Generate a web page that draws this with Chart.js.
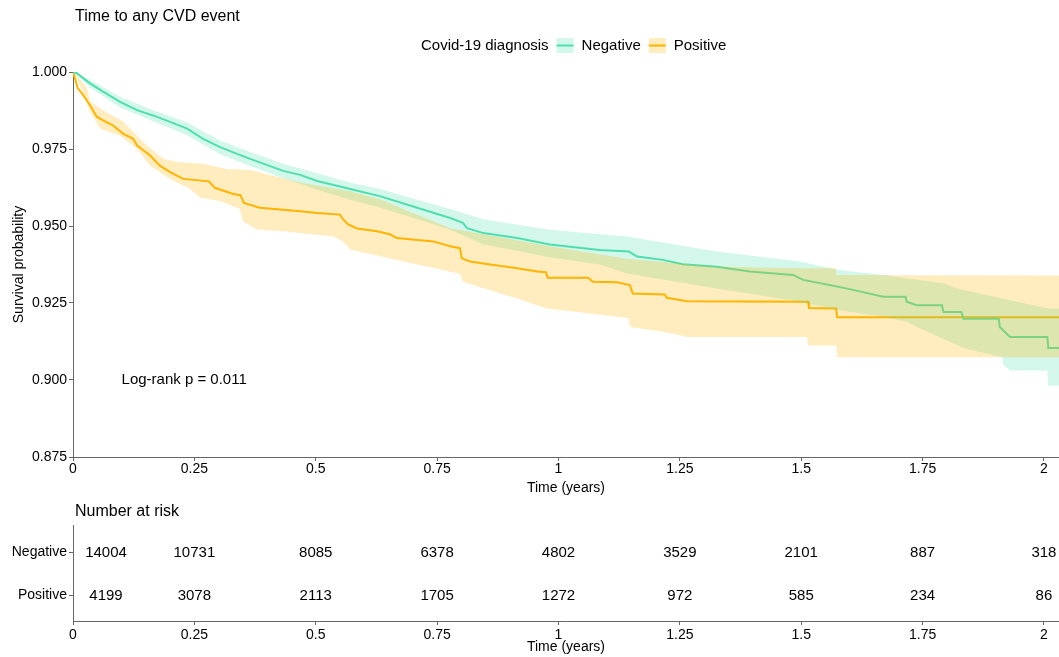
<!DOCTYPE html>
<html>
<head>
<meta charset="utf-8">
<script src="https://cdn.jsdelivr.net/npm/chart.js@4.4.1/dist/chart.umd.min.js"></script>
<style>
  body { margin: 0; background: #fff; }
  canvas { display: block; }
</style>
</head>
<body>
<canvas id="kmChart" width="1059" height="500"></canvas>
<canvas id="riskChart" width="1059" height="157"></canvas>
<script>
// Kaplan-Meier curves: [time in years, survival]
const negativeCurve = [[0,1],[0.008,0.9996],[0.035,0.9963],[0.062,0.9936],[0.097,0.9903],[0.132,0.9876],[0.165,0.9859],[0.2,0.9838],[0.235,0.9816],[0.268,0.9783],[0.303,0.9756],[0.338,0.9734],[0.365,0.9718],[0.433,0.9679],[0.468,0.9666],[0.503,0.9646],[0.571,0.962],[0.632,0.9597],[0.709,0.9559],[0.777,0.9526],[0.803,0.951],[0.812,0.9493],[0.845,0.9477],[0.915,0.9461],[0.982,0.944],[1.085,0.9422],[1.145,0.9417],[1.162,0.9401],[1.215,0.939],[1.256,0.9376],[1.326,0.9368],[1.394,0.9352],[1.483,0.9341],[1.504,0.9325],[1.553,0.931],[1.6,0.9295],[1.669,0.927],[1.715,0.927],[1.717,0.9254],[1.738,0.9243],[1.79,0.9243],[1.793,0.9221],[1.83,0.9221],[1.834,0.9199],[1.907,0.9199],[1.909,0.9172],[1.93,0.914],[2.007,0.914],[2.009,0.9104],[2.031,0.9104]];
const negativeUpper = [[0,1],[0.035,0.9975],[0.097,0.992],[0.165,0.9876],[0.235,0.9836],[0.303,0.9778],[0.365,0.974],[0.433,0.9702],[0.503,0.9671],[0.571,0.9641],[0.632,0.962],[0.709,0.9585],[0.777,0.9555],[0.845,0.9522],[0.982,0.9488],[1.141,0.9466],[1.326,0.9417],[1.497,0.9385],[1.574,0.9358],[1.669,0.9341],[1.717,0.933],[1.793,0.9314],[1.821,0.9297],[1.93,0.9259],[2.009,0.9232],[2.031,0.9232]];
const negativeLower = [[0,1],[0.035,0.995],[0.097,0.9885],[0.165,0.984],[0.235,0.9795],[0.303,0.9733],[0.365,0.9695],[0.433,0.9655],[0.503,0.9618],[0.571,0.9585],[0.632,0.956],[0.709,0.9522],[0.777,0.9488],[0.845,0.944],[0.915,0.942],[0.982,0.9398],[1.085,0.9375],[1.141,0.9346],[1.326,0.9297],[1.497,0.9254],[1.574,0.9227],[1.669,0.9205],[1.717,0.9189],[1.738,0.9172],[1.834,0.9104],[1.914,0.9074],[1.916,0.905],[1.93,0.9031],[2.007,0.9031],[2.009,0.8982],[2.031,0.8982]];

const positiveCurve = [[0,1],[0.004,0.9979],[0.01,0.9947],[0.021,0.9925],[0.035,0.9892],[0.049,0.9855],[0.062,0.9843],[0.082,0.9827],[0.103,0.98],[0.124,0.9783],[0.132,0.9761],[0.159,0.9729],[0.179,0.9696],[0.2,0.9675],[0.227,0.9653],[0.28,0.9645],[0.292,0.9624],[0.33,0.9604],[0.345,0.96],[0.352,0.9575],[0.385,0.9559],[0.468,0.9548],[0.503,0.9542],[0.55,0.9537],[0.556,0.9522],[0.566,0.9506],[0.585,0.9492],[0.626,0.9483],[0.653,0.9473],[0.667,0.9461],[0.742,0.945],[0.777,0.9434],[0.797,0.9428],[0.801,0.9395],[0.818,0.9385],[0.859,0.9375],[0.915,0.9363],[0.956,0.9352],[0.974,0.935],[0.978,0.9332],[1.061,0.9332],[1.071,0.9319],[1.12,0.9317],[1.147,0.9308],[1.153,0.9281],[1.219,0.9278],[1.223,0.9267],[1.265,0.9256],[1.514,0.9254],[1.516,0.9234],[1.572,0.9232],[1.574,0.9204],[2.031,0.9204]];
const positiveUpper = [[0,1],[0.008,0.9989],[0.029,0.9947],[0.035,0.9904],[0.056,0.9881],[0.082,0.9858],[0.103,0.9839],[0.132,0.9793],[0.153,0.976],[0.186,0.9718],[0.214,0.9708],[0.268,0.9702],[0.317,0.9685],[0.365,0.9682],[0.468,0.9641],[0.571,0.9613],[0.632,0.9587],[0.777,0.9493],[0.982,0.9434],[1.141,0.9394],[1.326,0.9368],[1.504,0.9363],[1.571,0.9363],[1.573,0.9341],[2.031,0.9339]];
const positiveLower = [[0,1],[0.014,0.9958],[0.035,0.9872],[0.056,0.9816],[0.097,0.9794],[0.132,0.9751],[0.159,0.9696],[0.2,0.9653],[0.241,0.962],[0.262,0.9592],[0.303,0.9581],[0.344,0.9555],[0.35,0.9515],[0.379,0.9489],[0.433,0.9483],[0.536,0.9466],[0.556,0.945],[0.571,0.9424],[0.709,0.9375],[0.797,0.9345],[0.803,0.9319],[0.915,0.9265],[0.976,0.9232],[1.065,0.9216],[1.12,0.9205],[1.145,0.92],[1.147,0.9172],[1.219,0.9156],[1.265,0.914],[1.512,0.914],[1.514,0.9112],[1.572,0.9112],[1.574,0.9074],[2.031,0.9074]];

const xTicks = [0, 0.25, 0.5, 0.75, 1, 1.25, 1.5, 1.75, 2];
const yTicks = [0.875, 0.9, 0.925, 0.95, 0.975, 1];
const xMax = 2.031;

const riskGroups = ['Negative', 'Positive'];
const riskTimes = [0, 0.25, 0.5, 0.75, 1, 1.25, 1.5, 1.75, 2];
const negativeAtRisk = [14004, 10731, 8085, 6378, 4802, 3529, 2101, 887, 318];
const positiveAtRisk = [4199, 3078, 2113, 1705, 1272, 972, 585, 234, 86];

const FONT = "'Liberation Sans', Arial, sans-serif";
const AXIS = '#666';
const GREEN = '#4FDEAE';
const ORANGE = '#FFB400';
const GREEN_BAND = 'rgba(79,222,174,0.25)';
const ORANGE_BAND = 'rgba(255,180,0,0.25)';
const NONE = 'rgba(0,0,0,0)';

function xScaleOptions(axisHeight, titleBottom) {
    return {
        type: 'linear',
        min: 0,
        max: xMax,
        afterBuildTicks: s => { s.ticks = xTicks.map(v => ({ value: v })); },
        afterFit: s => { s.height = axisHeight; },
        grid: { drawOnChartArea: false, drawTicks: true, tickLength: 4, tickColor: AXIS },
        border: { display: true, color: AXIS, width: 1 },
        ticks: { color: '#000', font: { size: 14, family: FONT }, padding: 0, maxRotation: 0, autoSkip: false, callback: v => String(v) },
        title: { display: true, text: 'Time (years)', color: '#000', font: { size: 14, family: FONT }, padding: { top: 0, bottom: titleBottom } }
    };
}

const headerPlugin = {
    id: 'header',
    afterDraw(chart) {
        const ctx = chart.ctx;
        ctx.save();
        ctx.fillStyle = '#000';
        ctx.textBaseline = 'middle';
        ctx.textAlign = 'left';
        ctx.font = '16px ' + FONT;
        ctx.fillText('Time to any CVD event', 75, 17);

        // legend
        ctx.font = '15px ' + FONT;
        let x = 421;
        const y = 46;
        ctx.fillText('Covid-19 diagnosis', x, y);
        x += ctx.measureText('Covid-19 diagnosis').width + 8;
        [['Negative', GREEN, GREEN_BAND], ['Positive', ORANGE, ORANGE_BAND]].forEach(([name, line, band]) => {
            ctx.fillStyle = band;
            ctx.fillRect(x, y - 8, 17, 15);
            ctx.strokeStyle = line;
            ctx.lineWidth = 2;
            ctx.beginPath();
            ctx.moveTo(x, y - 0.5);
            ctx.lineTo(x + 17, y - 0.5);
            ctx.stroke();
            x += 25;
            ctx.fillStyle = '#000';
            ctx.fillText(name, x, y);
            x += ctx.measureText(name).width + 8;
        });

        // log-rank annotation
        const xs = chart.scales.x, ys = chart.scales.y;
        ctx.font = '15px ' + FONT;
        ctx.fillText('Log-rank p = 0.011', xs.getPixelForValue(0.1), ys.getPixelForValue(0.9));
        ctx.restore();
    }
};

const lineStyle = { pointRadius: 0, fill: false, tension: 0 };
const bandStyle = { pointRadius: 0, tension: 0, borderColor: NONE, borderWidth: 0 };

new Chart(document.getElementById('kmChart'), {
    type: 'line',
    data: {
        datasets: [
            { label: 'Negative', data: negativeCurve, borderColor: GREEN, borderWidth: 2, order: 5, ...lineStyle },
            { label: 'Positive', data: positiveCurve, borderColor: ORANGE, borderWidth: 2, order: 5, ...lineStyle },
            { label: 'neg-lower', data: negativeLower, fill: false, order: 1, ...bandStyle },
            { label: 'neg-upper', data: negativeUpper, fill: 2, backgroundColor: GREEN_BAND, order: 1, ...bandStyle },
            { label: 'pos-lower', data: positiveLower, fill: false, order: 0, ...bandStyle },
            { label: 'pos-upper', data: positiveUpper, fill: 4, backgroundColor: ORANGE_BAND, order: 0, ...bandStyle }
        ]
    },
    options: {
        responsive: false,
        animation: false,
        layout: { padding: { top: 72, left: 0, right: 0, bottom: 0 } },
        plugins: { legend: { display: false }, tooltip: { enabled: false }, filler: { propagate: false } },
        scales: {
            x: xScaleOptions(43, 3),
            y: {
                type: 'linear',
                min: 0.875,
                max: 1,
                afterBuildTicks: s => { s.ticks = yTicks.map(v => ({ value: v })); },
                afterFit: s => { s.width = 73; },
                grid: { drawOnChartArea: false, drawTicks: true, tickLength: 4, tickColor: AXIS },
                border: { display: true, color: AXIS, width: 1 },
                ticks: { color: '#000', font: { size: 14, family: FONT }, padding: 2, callback: v => v.toFixed(3) },
                title: { display: true, text: 'Survival probability', color: '#000', font: { size: 14, family: FONT }, padding: { top: 11, bottom: 0 } }
            }
        }
    },
    plugins: [headerPlugin]
});

const riskPlugin = {
    id: 'riskTable',
    afterDraw(chart) {
        const ctx = chart.ctx;
        const xs = chart.scales.x, ys = chart.scales.y;
        ctx.save();
        ctx.fillStyle = '#000';
        ctx.textBaseline = 'middle';
        ctx.textAlign = 'left';
        ctx.font = '16px ' + FONT;
        ctx.fillText('Number at risk', 75, 12);
        ctx.font = '15px ' + FONT;
        ctx.textAlign = 'center';
        [negativeAtRisk, positiveAtRisk].forEach((row, r) => {
            row.forEach((n, i) => {
                const shift = i === 0 ? 33 : 0;
                ctx.fillText(String(n), xs.getPixelForValue(riskTimes[i]) + shift, ys.getPixelForValue(r));
            });
        });
        ctx.restore();
    }
};

new Chart(document.getElementById('riskChart'), {
    type: 'scatter',
    data: { datasets: [] },
    options: {
        responsive: false,
        animation: false,
        layout: { padding: { top: 25, left: 0, right: 0, bottom: 0 } },
        plugins: { legend: { display: false }, tooltip: { enabled: false } },
        scales: {
            x: Object.assign(xScaleOptions(36, 1), { ticks: { color: '#000', font: { size: 14, family: FONT }, padding: 2, maxRotation: 0, autoSkip: false, callback: v => String(v) } }),
            y: {
                type: 'linear',
                reverse: true,
                min: -0.64,
                max: 1.593,
                afterBuildTicks: s => { s.ticks = riskGroups.map((g, i) => ({ value: i })); },
                afterFit: s => { s.width = 73; },
                grid: { drawOnChartArea: false, drawTicks: true, tickLength: 4, tickColor: AXIS },
                border: { display: true, color: AXIS, width: 1 },
                ticks: { color: '#000', font: { size: 14, family: FONT }, padding: 2, callback: v => riskGroups[v] }
            }
        }
    },
    plugins: [riskPlugin]
});
</script>
</body>
</html>
